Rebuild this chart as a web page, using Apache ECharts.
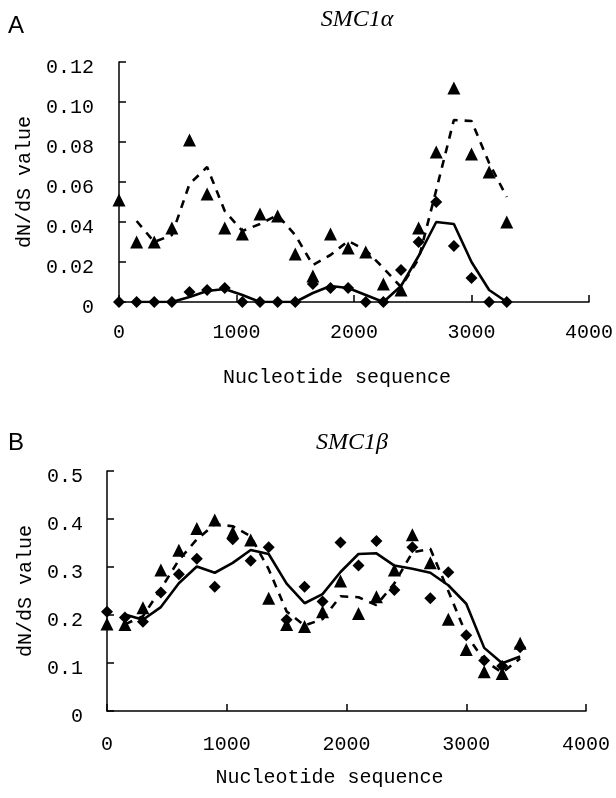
<!DOCTYPE html>
<html>
<head>
<meta charset="utf-8">
<script src="https://cdn.jsdelivr.net/npm/echarts@6/dist/echarts.min.js"></script>
<style>
html,body{margin:0;padding:0;background:#fff;}
#chart{width:616px;height:798px;}
</style>
</head>
<body>
<div id="chart"></div>
<script>
// ---------- Panel A: SMC1alpha ----------
const posA = [0,150,300,450,600,750,900,1050,1200,1350,1500,1650,1800,1950,2100,2250,2400,2550,2700,2850,3000,3150,3300];
const triA = [0.051,0.030,0.030,0.037,0.081,0.054,0.037,0.034,0.044,0.043,0.024,0.013,0.034,0.027,0.025,0.009,0.006,0.037,0.075,0.107,0.074,0.065,0.040];
const diaA = [0,0,0,0,0.005,0.006,0.007,0,0,0,0,0.009,0.007,0.007,0,0,0.016,0.030,0.050,0.028,0.012,0,0];
const linePosA = [150,300,450,600,750,900,1050,1200,1350,1500,1650,1800,1950,2100,2250,2400,2550,2700,2850,3000,3150,3300];
const dashA = [0.0405,0.030,0.0335,0.059,0.0675,0.0455,0.0355,0.039,0.0435,0.0335,0.0185,0.0235,0.0305,0.026,0.017,0.0075,0.0215,0.056,0.091,0.0905,0.0695,0.0525];
const solidA = [0,0,0,0.0025,0.0055,0.0065,0.0035,0,0,0,0.0045,0.008,0.007,0.0035,0,0.008,0.023,0.040,0.039,0.020,0.006,0];

// ---------- Panel B: SMC1beta ----------
const posB = [0,150,300,450,600,750,900,1050,1200,1350,1500,1650,1800,1950,2100,2250,2400,2550,2700,2850,3000,3150,3300,3450];
const triB = [0.181,0.180,0.215,0.294,0.335,0.380,0.398,0.372,0.356,0.235,0.180,0.176,0.207,0.271,0.203,0.238,0.294,0.367,0.309,0.191,0.128,0.082,0.078,0.141];
const diaB = [0.207,0.195,0.186,0.247,0.285,0.317,0.259,0.358,0.313,0.341,0.190,0.259,0.228,0.351,0.303,0.354,0.252,0.341,0.235,0.289,0.158,0.105,0.094,0.133];
const linePosB = [150,300,450,600,750,900,1050,1200,1350,1500,1650,1800,1950,2100,2250,2400,2550,2700,2850,3000,3150,3300,3450];
const dashB = [0.1805,0.1975,0.2545,0.3145,0.3575,0.389,0.385,0.364,0.2955,0.2075,0.178,0.1915,0.239,0.237,0.2205,0.266,0.3305,0.338,0.25,0.1595,0.105,0.08,0.1095];
const solidB = [0.201,0.19,0.2165,0.266,0.301,0.288,0.3085,0.3355,0.327,0.2655,0.2245,0.2435,0.2895,0.327,0.3285,0.303,0.2965,0.288,0.262,0.2235,0.1315,0.0995,0.1135];

const xTicks = {min:0, max:4000, interval:1000};
const yTicksA = {min:0, max:0.12, interval:0.02};
const yTicksB = {min:0, max:0.5, interval:0.1};

const titleA = 'SMC1α', titleB = 'SMC1β';
const xName = 'Nucleotide sequence', yName = 'dN/dS value';

const pairs = (xs, ys) => xs.map((x, i) => [x, ys[i]]);
const MONO = 'Liberation Mono';
const BLACK = '#000';

function xAxis(gridIndex, labelMargin, nameGap) {
  return {
    gridIndex, type: 'value', min: xTicks.min, max: xTicks.max, interval: xTicks.interval,
    axisLine: {lineStyle: {color: BLACK, width: 1.5}},
    axisTick: {inside: true, length: 7, lineStyle: {color: BLACK, width: 1.5}},
    splitLine: {show: false},
    axisLabel: {fontFamily: MONO, fontSize: 20, color: BLACK, margin: labelMargin,
      showMinLabel: true, showMaxLabel: true, formatter: v => String(v)},
    name: xName, nameLocation: 'middle', nameGap: nameGap,
    nameTextStyle: {fontFamily: MONO, fontSize: 20, color: BLACK, padding: [0, 34, 0, 0]}
  };
}
function yAxis(gridIndex, t, dec, labelMargin, nameGap) {
  return {
    gridIndex, type: 'value', min: t.min, max: t.max, interval: t.interval,
    axisLine: {show: true, lineStyle: {color: BLACK, width: 1.5}},
    axisTick: {show: true, inside: true, length: 7, lineStyle: {color: BLACK, width: 1.5}},
    splitLine: {show: false},
    axisLabel: {color: BLACK, margin: labelMargin,
      formatter: v => '{v|' + (v === 0 ? '0' : v.toFixed(dec)) + '}',
      rich: {v: {fontFamily: MONO, fontSize: 20, color: BLACK, padding: [12, 0, 0, 0]}}},
    name: yName, nameLocation: 'middle', nameGap: nameGap, nameRotate: 90,
    nameTextStyle: {fontFamily: MONO, fontSize: 20, color: BLACK}
  };
}
function scatter(idx, xs, ys, symbol, size) {
  return {type: 'scatter', xAxisIndex: idx, yAxisIndex: idx, data: pairs(xs, ys),
    symbol, symbolSize: size, itemStyle: {color: BLACK, opacity: 1}, z: 3};
}
function line(idx, xs, ys, dashed) {
  return {type: 'line', xAxisIndex: idx, yAxisIndex: idx, data: pairs(xs, ys),
    showSymbol: false, symbol: 'none', smooth: false, z: 2,
    lineStyle: {color: BLACK, width: 2.6, type: dashed ? [8, 7] : 'solid'}};
}
const sans = {fontFamily: 'Liberation Sans', fontSize: 24, fontWeight: 'normal', color: BLACK};
const ital = {fontFamily: 'Liberation Serif', fontStyle: 'italic', fontSize: 24, fontWeight: 'normal', color: BLACK};

const chart = echarts.init(document.getElementById('chart'), null, {renderer: 'canvas'});
chart.setOption({
  animation: false,
  backgroundColor: '#fff',
  title: [
    {text: 'A', left: 8, top: 14, padding: 0, textStyle: sans},
    {text: titleA, left: 357, top: 8, padding: 0, textAlign: 'center', textStyle: ital},
    {text: 'B', left: 8, top: 431, padding: 0, textStyle: sans},
    {text: titleB, left: 352, top: 431, padding: 0, textAlign: 'center', textStyle: ital}
  ],
  grid: [
    {left: 119, top: 62, width: 470, height: 240},
    {left: 107, top: 471, width: 479, height: 240}
  ],
  xAxis: [xAxis(0, 21, 66), xAxis(1, 24, 57)],
  yAxis: [yAxis(0, yTicksA, 2, 25, 77), yAxis(1, yTicksB, 1, 24, 65)],
  series: [
    line(0, linePosA, dashA, true),
    line(0, linePosA, solidA, false),
    scatter(0, posA, triA, 'triangle', 13),
    scatter(0, posA, diaA, 'diamond', 12),
    line(1, linePosB, dashB, true),
    line(1, linePosB, solidB, false),
    scatter(1, posB, triB, 'triangle', 13),
    scatter(1, posB, diaB, 'diamond', 12)
  ]
});
</script>
</body>
</html>
